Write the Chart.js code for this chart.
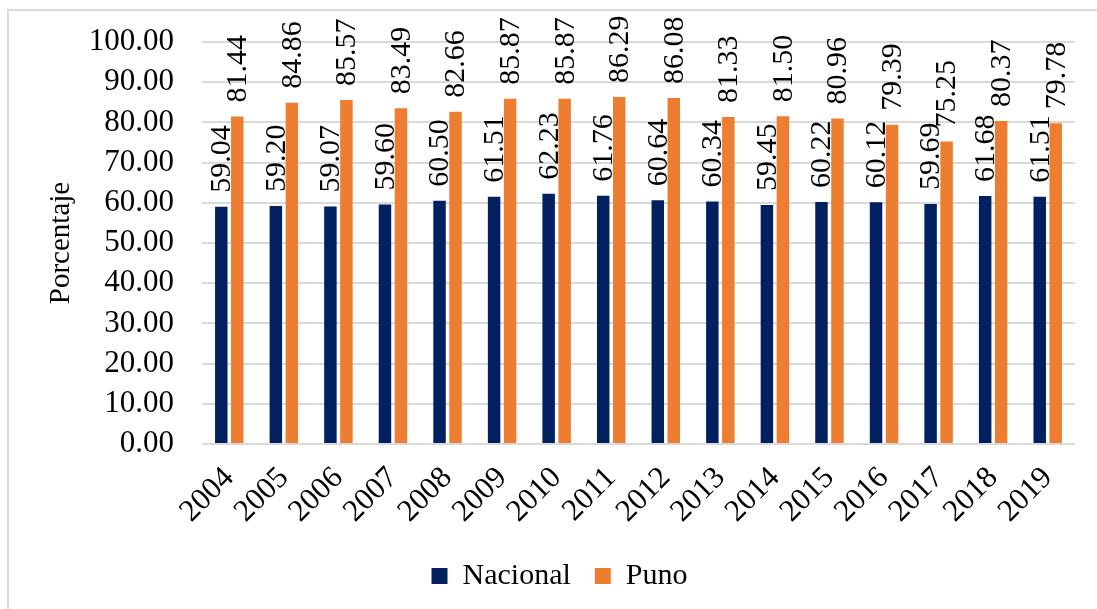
<!DOCTYPE html>
<html>
<head>
<meta charset="utf-8">
<script src="https://cdn.jsdelivr.net/npm/chart.js@4.4.1/dist/chart.umd.min.js"></script>
<style>
  html, body { margin: 0; padding: 0; background: #fff; }
  #wrap { position: relative; width: 1097px; height: 609px; overflow: hidden; }
  #frame { position: absolute; left: 7px; top: 9px; width: 1200px; height: 700px; border: 2px solid #d9d9d9; box-sizing: border-box; }
  canvas { position: absolute; left: 0; top: 0; }
</style>
</head>
<body>
<div id="wrap">
  <div id="frame"></div>
  <canvas id="c" width="1097" height="609"></canvas>
</div>
<script>
const categories = ['2004','2005','2006','2007','2008','2009','2010','2011','2012','2013','2014','2015','2016','2017','2018','2019'];
const nacional = [59.04, 59.20, 59.07, 59.60, 60.50, 61.51, 62.23, 61.76, 60.64, 60.34, 59.45, 60.22, 60.12, 59.69, 61.68, 61.51];
const puno = [81.44, 84.86, 85.57, 83.49, 82.66, 85.87, 85.87, 86.29, 86.08, 81.33, 81.50, 80.96, 79.39, 75.25, 80.37, 79.78];
const yTicks = [0, 10, 20, 30, 40, 50, 60, 70, 80, 90, 100];

const FONT = "'Liberation Serif', serif";
Chart.defaults.font.family = FONT;
Chart.defaults.color = '#000';

const labelPlugin = {
  id: 'barLabels',
  afterDatasetsDraw(chart) {
    const ctx = chart.ctx;
    ctx.save();
    ctx.fillStyle = '#000';
    ctx.font = '30px ' + FONT;
    ctx.textAlign = 'left';
    ctx.textBaseline = 'middle';
    chart.data.datasets.forEach((ds, di) => {
      const meta = chart.getDatasetMeta(di);
      meta.data.forEach((el, i) => {
        ctx.save();
        ctx.translate(el.x, el.y - 14);
        ctx.rotate(-Math.PI / 2);
        ctx.fillText(ds.data[i].toFixed(2), 0, 1);
        ctx.restore();
      });
    });
    ctx.restore();
  }
};

new Chart(document.getElementById('c'), {
  type: 'bar',
  data: {
    labels: categories,
    datasets: [
      { label: 'Nacional', data: nacional, backgroundColor: '#002060', categoryPercentage: 0.586, barPercentage: 0.78 },
      { label: 'Puno', data: puno, backgroundColor: '#ED7D31', categoryPercentage: 0.586, barPercentage: 0.78 }
    ]
  },
  options: {
    responsive: false,
    animation: false,
    devicePixelRatio: 1,
    layout: { padding: { left: 44, right: 22, top: 42, bottom: 8 } },
    plugins: {
      tooltip: { enabled: false },
      legend: {
        position: 'bottom',
        labels: {
          color: '#000',
          font: { family: FONT, size: 30 },
          boxWidth: 16,
          boxHeight: 16,
          padding: 24
        }
      }
    },
    scales: {
      x: {
        grid: { display: false },
        border: { display: false },
        ticks: {
          color: '#000',
          font: { family: FONT, size: 31 },
          minRotation: 45,
          maxRotation: 45,
          autoSkip: false,
          padding: 8
        },
        afterFit(scale) { scale.height = 93; }
      },
      y: {
        min: 0,
        max: 100,
        afterBuildTicks(scale) { scale.ticks = yTicks.map(v => ({ value: v })); },
        grid: { color: '#d9d9d9', lineWidth: 2, drawTicks: false },
        border: { display: false },
        ticks: {
          color: '#000',
          font: { family: FONT, size: 31 },
          padding: 28,
          autoSkip: false,
          callback: v => Number(v).toFixed(2)
        },
        title: {
          display: true,
          text: 'Porcentaje',
          color: '#000',
          font: { family: FONT, size: 29 },
          padding: 0
        },
        afterFit(scale) { scale.width = 158; scale.paddingTop = 0; scale.paddingBottom = 0; }
      }
    }
  },
  plugins: [labelPlugin]
});
</script>
</body>
</html>
